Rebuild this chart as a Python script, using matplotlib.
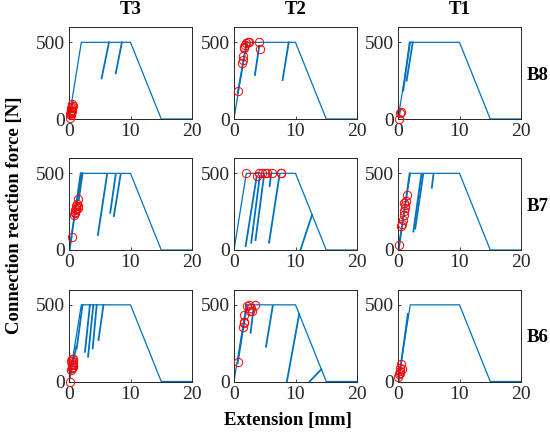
import matplotlib
matplotlib.use("Agg")
from matplotlib import pyplot as plt

# backbone curve shared by all panels
env_x = [0, 2, 10, 15, 20]
env_y = [0, 500, 500, 0, 0]

cols = ["T3", "T2", "T1"]
rows = ["B8", "B7", "B6"]

# unload/reload segments, each (x0, y0, x1, y1)
seg_T3_B8 = [(0, 0, 0.6, 110), (5.3, 265, 6.5, 500), (7.6, 298, 8.6, 500)]
seg_T2_B8 = [(0.6, 170, 2.1, 500), (3.4, 287, 4.1, 476), (7.9, 254, 8.9, 500)]
seg_T1_B8 = [(0, 0, 0.4, 60), (0.85, 185, 1.9, 500), (1.4, 250, 2.4, 500)]

seg_T3_B7 = [(0.1, 0, 1.9, 500), (1.3, 300, 2.0, 500), (1.6, 330, 2.2, 500),
             (4.7, 98, 6.2, 494), (6.7, 243, 7.6, 494), (7.3, 222, 8.4, 494)]
seg_T2_B7 = [(1.9, 26, 3.7, 483), (2.8, 48, 4.2, 483), (3.5, 65, 4.9, 494),
             (5.7, 48, 7.4, 489), (5.8, 417, 6.0, 489), (10.8, 0, 12.7, 230)]
seg_T1_B7 = [(0.1, 0, 1.9, 500), (2.5, 120, 3.8, 495), (2.8, 140, 4.1, 495),
             (5.5, 406, 5.75, 489)]

seg_T3_B6 = [(0, 0, 1.2, 230), (1.25, 216, 2.2, 499), (2.6, 194, 3.4, 499),
             (3.1, 162, 3.95, 499), (3.85, 216, 4.5, 499), (4.8, 271, 5.6, 499)]
seg_T2_B6 = [(0.6, 120, 2.1, 500), (2.7, 318, 3.2, 488), (5.2, 227, 6.3, 492),
             (8.6, 0, 10.6, 440), (12.3, 0, 14.2, 80)]
seg_T1_B6 = [(0.1, 0, 1.6, 440)]

# detected points (red circles)
pts_T3_B8_x = [0.15, 0.2, 0.25, 0.3, 0.35, 0.4, 0.45, 0.5, 0.55, 0.3, 0.6]
pts_T3_B8_y = [5, 35, 48, 60, 42, 70, 55, 80, 95, 25, 85]
pts_T2_B8_x = [0.7, 1.3, 1.4, 1.5, 1.6, 1.6, 1.8, 2.0, 2.3, 2.4, 4.1, 4.2]
pts_T2_B8_y = [183, 367, 385, 411, 461, 472, 480, 494, 504, 500, 504, 455]
pts_T1_B8_x = [0.2, 0.3, 0.5]
pts_T1_B8_y = [0, 40, 45]

pts_T3_B7_x = [0.43, 0.8, 0.9, 1.0, 1.1, 1.2, 1.3, 1.4, 1.5, 1.0, 1.2, 1.4]
pts_T3_B7_y = [85, 230, 245, 260, 270, 285, 300, 290, 330, 240, 265, 275]
pts_T2_B7_x = [1.9, 3.8, 4.1, 4.5, 5.0, 5.4, 6.2, 7.6, 7.7]
pts_T2_B7_y = [500, 480, 500, 500, 500, 500, 500, 500, 500]
pts_T1_B7_x = [0.2, 0.44, 0.7, 0.86, 0.9, 0.96, 1.1, 1.15, 1.0, 1.3, 1.4]
pts_T1_B7_y = [30, 156, 170, 198, 230, 252, 274, 295, 306, 317, 360]

pts_T3_B6_x = [0.16, 0.4, 0.5, 0.6, 0.45, 0.55, 0.65, 0.4, 0.5, 0.6, 0.7, 0.45]
pts_T3_B6_y = [0, 75, 85, 95, 105, 115, 125, 135, 145, 150, 110, 90]
pts_T2_B6_x = [0.7, 1.4, 1.55, 1.6, 1.55, 2.1, 2.4, 2.6, 2.8, 3.0, 3.45]
pts_T2_B6_y = [125, 358, 380, 390, 434, 492, 499, 462, 477, 462, 499]
pts_T1_B6_x = [0.0, 0.17, 0.28, 0.4, 0.57, 0.28, 0.45]
pts_T1_B6_y = [30, 47, 58, 69, 80, 90, 116]

segs = {
	("B8", "T3"): seg_T3_B8, ("B8", "T2"): seg_T2_B8, ("B8", "T1"): seg_T1_B8,
	("B7", "T3"): seg_T3_B7, ("B7", "T2"): seg_T2_B7, ("B7", "T1"): seg_T1_B7,
	("B6", "T3"): seg_T3_B6, ("B6", "T2"): seg_T2_B6, ("B6", "T1"): seg_T1_B6,
}
pts = {
	("B8", "T3"): (pts_T3_B8_x, pts_T3_B8_y), ("B8", "T2"): (pts_T2_B8_x, pts_T2_B8_y),
	("B8", "T1"): (pts_T1_B8_x, pts_T1_B8_y),
	("B7", "T3"): (pts_T3_B7_x, pts_T3_B7_y), ("B7", "T2"): (pts_T2_B7_x, pts_T2_B7_y),
	("B7", "T1"): (pts_T1_B7_x, pts_T1_B7_y),
	("B6", "T3"): (pts_T3_B6_x, pts_T3_B6_y), ("B6", "T2"): (pts_T2_B6_x, pts_T2_B6_y),
	("B6", "T1"): (pts_T1_B6_x, pts_T1_B6_y),
}

BLUE = (0, 0.447, 0.741)
GREY = (0.15, 0.15, 0.15)


def main():
	plt.rcParams['font.family'] = ['Liberation Serif', 'DejaVu Serif']
	W, H = 550.0, 434.0
	fig = plt.figure(figsize=(5.5, 4.34), dpi=100)

	lefts = [69, 234, 398]
	bottoms = [119, 250, 381.5]
	aw, ah = 123, 92

	for r, row in enumerate(rows):
		for c, col in enumerate(cols):
			ax = fig.add_axes([lefts[c] / W, 1 - bottoms[r] / H, aw / W, ah / H])
			ax.plot(env_x, env_y, color=BLUE, lw=0.9)
			for (x0, y0, x1, y1) in segs[(row, col)]:
				ax.plot([x0, x1], [y0, y1], color=BLUE, lw=1.3)
			px, py = pts[(row, col)]
			ax.plot(px, py, 'o', mfc='none', mec='red', ms=6, mew=0.7, clip_on=False, zorder=5)
			ax.set_xlim(0, 20)
			ax.set_ylim(0, 600)
			ax.set_xticks([0, 10, 20])
			ax.set_yticks([0, 500])
			ax.tick_params(direction='in', length=2, width=0.6, colors=GREY,
			               labelsize=14, pad=3)
			for s in ax.spines.values():
				s.set_color(GREY)
				s.set_linewidth(0.7)

	for c, col in enumerate(cols):
		fig.text((lefts[c] + aw / 2) / W, 1 - 10 / H, col, ha='center', va='center',
		         fontsize=13.5, fontweight='bold')
	for r, row in enumerate(rows):
		fig.text(527 / W, 1 - (bottoms[r] - ah / 2 + 2) / H, row, ha='left', va='center',
		         fontsize=13.5, fontweight='bold')

	fig.text(288 / W, 1 - 420 / H, "Extension [mm]", ha='center', va='center',
	         fontsize=13.5, fontweight='bold')
	fig.text(15 / W, 1 - 215 / H, "Connection reaction force [N]", ha='center', va='center',
	         rotation=90, fontsize=13.5, fontweight='bold')

	plt.savefig("out.png", dpi=100)


if __name__ == '__main__':
	main()
